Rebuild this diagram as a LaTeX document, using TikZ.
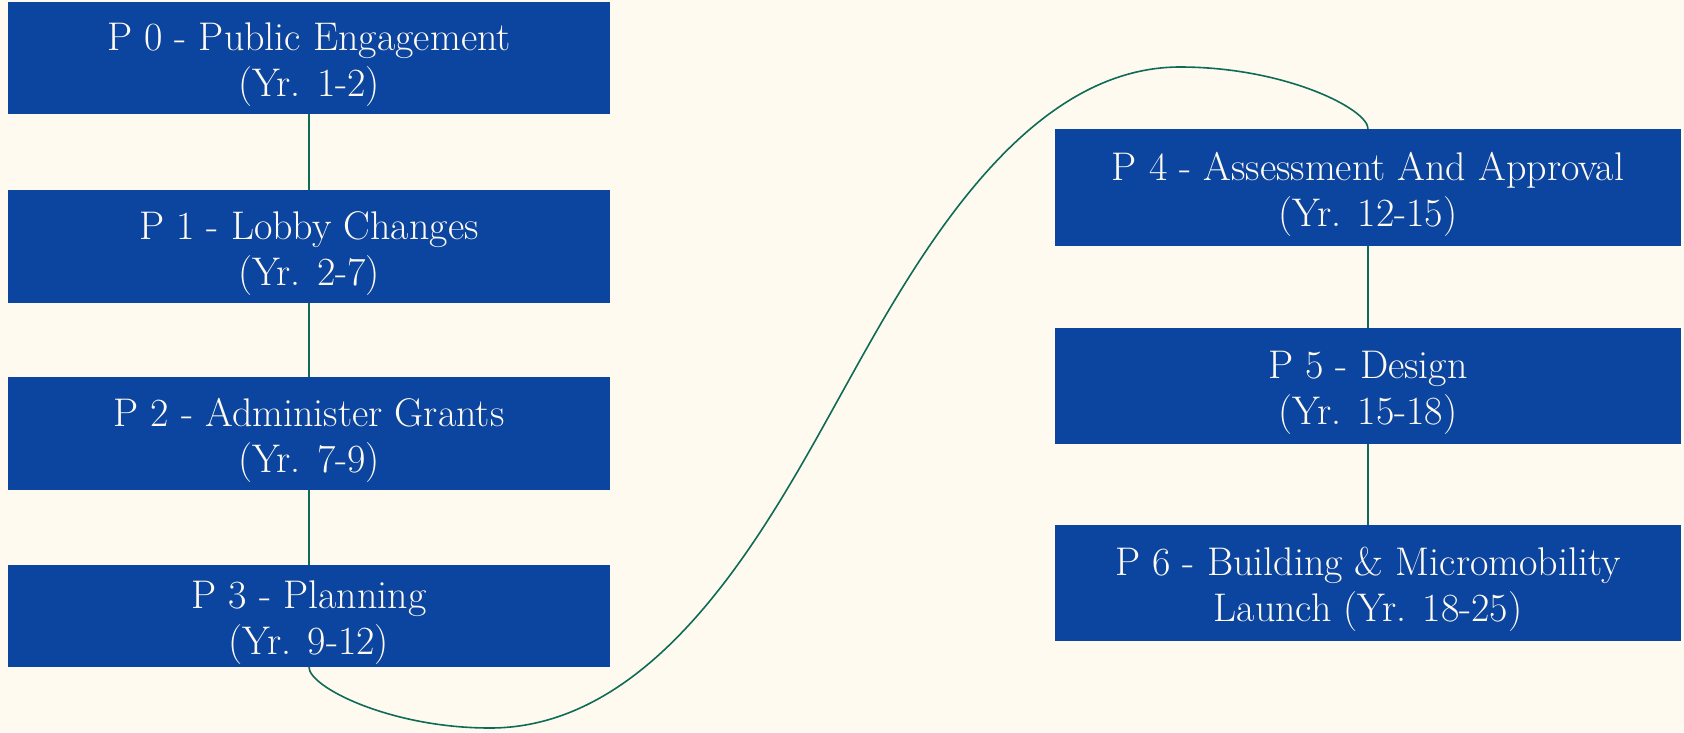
\documentclass[tikz,border=0pt]{standalone}
\usepackage{fontspec}
\definecolor{bgcream}{HTML}{FFFAEF}
\definecolor{boxblue}{HTML}{0B45A0}
\definecolor{linkgreen}{HTML}{0E6B58}
\definecolor{txtcream}{HTML}{FFFAEF}
\tikzset{
  phase/.style={rectangle, fill=boxblue, text=txtcream, align=center, inner sep=0pt,
    font=\fontsize{40}{46}\selectfont, text height=87pt},
  leftbox/.style={phase, minimum width=602pt},
  rightbox/.style={phase, minimum width=626pt},
  link/.style={draw=linkgreen, line width=1.6pt}
}
\begin{document}
\begin{tikzpicture}[x=1pt,y=-1pt]
\fill[bgcream] (0,0) rectangle (1684,732);
\useasboundingbox (0,0) rectangle (1684,732);
\node[leftbox, minimum height=112pt] (p0) at (309,58) {P 0 - Public Engagement\\(Yr. 1-2)};
\node[leftbox, minimum height=113pt] (p1) at (309,246.5) {P 1 - Lobby Changes\\(Yr. 2-7)};
\node[leftbox, minimum height=113pt] (p2) at (309,433.5) {P 2 - Administer Grants\\(Yr. 7-9)};
\node[leftbox, minimum height=102pt] (p3) at (309,616) {P 3 - Planning\\(Yr. 9-12)};
\node[rightbox, minimum height=117pt] (p4) at (1368,187.5) {P 4 - Assessment And Approval\\(Yr. 12-15)};
\node[rightbox, minimum height=116pt] (p5) at (1368,386) {P 5 - Design\\(Yr. 15-18)};
\node[rightbox, minimum height=116pt] (p6) at (1368,583) {P 6 - Building \& Micromobility\\Launch (Yr. 18-25)};
\draw[link] (p0) -- (p1);
\draw[link] (p1) -- (p2);
\draw[link] (p2) -- (p3);
\draw[link] (p4) -- (p5);
\draw[link] (p5) -- (p6);
\draw[link] (p3.south) .. controls (309,687) and (390,728) .. (490,728)
  .. controls (660,728) and (769,524) .. (839,398)
  .. controls (909,272) and (1018,67) .. (1180,67)
  .. controls (1285,67) and (1368,109) .. (p4.north);
\end{tikzpicture}
\end{document}
